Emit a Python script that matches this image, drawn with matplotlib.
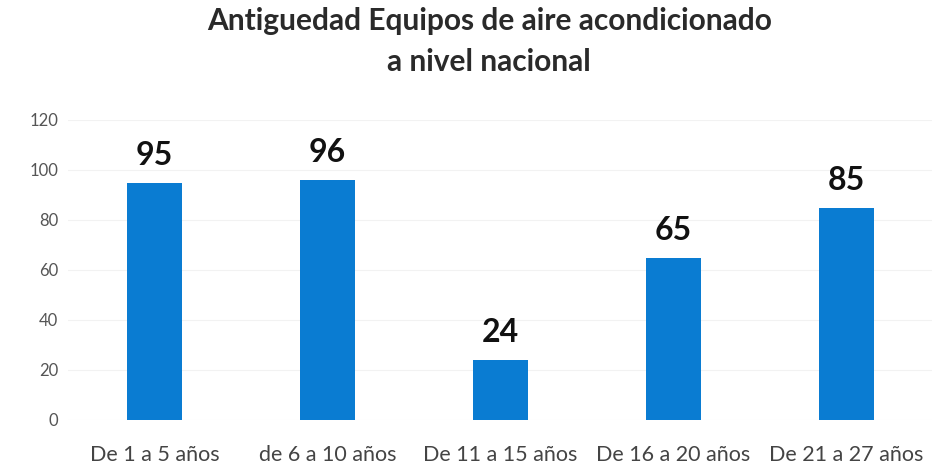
import matplotlib.pyplot as plt

categorias = ["De 1 a 5 años", "de 6 a 10 años", "De 11 a 15 años",
              "De 16 a 20 años", "De 21 a 27 años"]
valores = [95, 96, 24, 65, 85]
y_ticks = [0, 20, 40, 60, 80, 100, 120]

plt.rcParams['font.family'] = ['Lato', 'DejaVu Sans']

fig = plt.figure(figsize=(9.32, 4.68), dpi=100)
ax = fig.add_axes([68 / 932, 48 / 468, 865 / 932, 300 / 468])

bars = ax.bar(range(len(valores)), valores, width=0.32, color='#0a7cd2', zorder=2)

# Etiquetas de valor sobre cada barra
for b, v in zip(bars, valores):
    ax.annotate(str(v), (b.get_x() + b.get_width() / 2, v),
                xytext=(0, 9), textcoords='offset points',
                ha='center', va='bottom', fontsize=23, fontweight='bold',
                color='#111111')

ax.set_xlim(-0.5, len(valores) - 0.5)
ax.set_ylim(0, 120)
ax.set_yticks(y_ticks)
ax.set_xticks(range(len(categorias)))
ax.set_xticklabels(categorias, fontsize=15.5, color='#444444')
ax.tick_params(axis='y', labelsize=12, colors='#555555', length=0, pad=7)
ax.tick_params(axis='x', length=0, pad=18)
ax.grid(axis='y', color='#f2f2f2', linewidth=0.8, zorder=0)

for s in ax.spines.values():
    s.set_visible(False)

fig.suptitle("Antiguedad Equipos de aire acondicionado\na nivel nacional",
             x=0.525, y=0.985, fontsize=21.5, fontweight='bold', color='#2a2a2a',
             linespacing=1.55)

fig.savefig('out.png', dpi=100, facecolor='white')
